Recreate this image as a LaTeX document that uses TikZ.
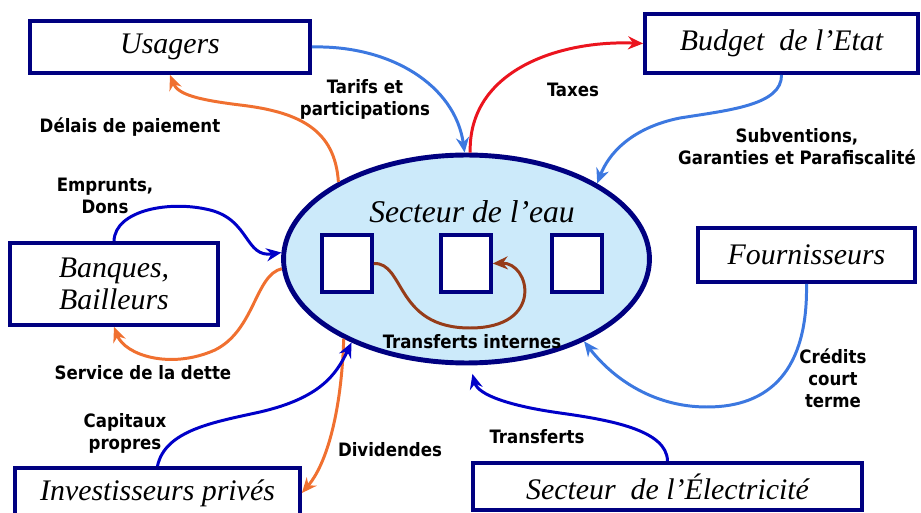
\documentclass[tikz,border=0pt]{standalone}
\usepackage{fontspec}
\setmainfont{Liberation Serif}
\newfontfamily\lblfont{DejaVu Sans Condensed}
\usetikzlibrary{positioning,
        shapes,
        arrows.meta}
\usepackage{xcolor}
\definecolor{navy}{RGB}{0,0,128}
\definecolor{eaufill}{RGB}{204,234,250}
\definecolor{fluxorange}{RGB}{240,112,48}
\definecolor{fluxbleu}{RGB}{60,120,224}
\definecolor{fluxmarine}{RGB}{0,0,200}
\definecolor{fluxrouge}{RGB}{235,20,30}
\definecolor{fluxbrun}{RGB}{150,60,25}

\begin{document}
\begin{tikzpicture}[x=0.02cm,y=-0.02cm,
            boite/.style={draw=navy,line width=2.2pt,fill=white,font=\fontsize{17}{18}\selectfont\itshape,align=center,inner sep=0pt},
            carre/.style={draw=navy,line width=2pt,fill=white,minimum width=1cm,minimum height=1.14cm,inner sep=0pt},
            etiq/.style={font=\lblfont\bfseries\fontsize{10.5}{12.5}\selectfont,align=center},
            flux/.style={line width=1.7pt,-{Stealth[length=3mm,width=2.6mm]}}]
            \useasboundingbox (0,0) rectangle (921,513);

            \node [boite,minimum width=5.6cm,minimum height=1.04cm] (usagers) at (170,47) {Usagers};
            \node [boite,minimum width=5.46cm,minimum height=1.18cm] (budget) at (781.5,43.5) {Budget\ \ de l’Etat};
            \node [boite,minimum width=4.16cm,minimum height=1.64cm] (banques) at (114,284) {Banques,\\Bailleurs};
            \node [boite,minimum width=4.34cm,minimum height=1.08cm] (fournisseurs) at (806.5,255) {Fournisseurs};
            \node [boite,minimum width=7.78cm,minimum height=0.94cm] (electricite) at (667.5,486.5) {Secteur\ \ de l’Électricité};
            \node [boite,minimum width=5.7cm,minimum height=1.0cm] (investisseurs) at (157.5,493) {Investisseurs privés};

            \node [ellipse,draw=navy,line width=2.8pt,fill=eaufill,minimum width=7.32cm,minimum height=4.16cm,inner sep=0pt] (eau) at (466.5,259) {};
            \node [font=\fontsize{18}{20}\selectfont\itshape] (titreeau) at (472,212) {Secteur de l’eau};
            \node [carre] (sqa) at (347,263.5) {};
            \node [carre] (sqb) at (466,263.5) {};
            \node [carre] (sqc) at (577,263.5) {};
            \node [etiq] (internes) at (472,342) {Transferts internes};

            % etiquettes des flux
            \node [etiq] (ltarifs) at (365,99) {Tarifs et\\participations};
            \node [etiq] (ltaxes) at (573,90) {Taxes};
            \node [etiq] (lsubv) at (797,147) {Subventions,\\Garanties et Parafiscalité};
            \node [etiq] (lcredits) at (833,378) {Crédits\\court\\terme};
            \node [etiq] (ltransf) at (537,437) {Transferts};
            \node [etiq] (ldiv) at (390,450) {Dividendes};
            \node [etiq] (lcapit) at (125,433) {Capitaux\\propres};
            \node [etiq] (lservice) at (143,373) {Service de la dette};
            \node [etiq] (lemprunts) at (105,196) {Emprunts,\\Dons};
            \node [etiq] (ldelais) at (130,127) {Délais de paiement};

            \draw [flux,fluxbleu] (usagers.east) .. controls (390,45) and (455,85) .. (eau.91);
            \draw [flux,fluxrouge] (eau.88) .. controls (468,70) and (560,40) .. (budget.west);
            \draw [flux,fluxbleu] (budget.south) .. controls (782,105) and (730,110) .. (680,118) .. controls (630,128) and (608,155) .. (eau.30);
            \draw [flux,fluxbleu] (fournisseurs.south) .. controls (808,370) and (770,407) .. (707,407) .. controls (650,407) and (610,375) .. (eau.-35);
            \draw [flux,fluxmarine,shorten >=5pt] (electricite.north) .. controls (667,430) and (610,420) .. (560,413) .. controls (510,406) and (478,395) .. (eau.-88);
            \draw [flux,fluxorange] (eau.213) .. controls (342,400) and (330,460) .. (investisseurs.east);
            \draw [flux,fluxmarine] (investisseurs.north) .. controls (165,430) and (215,422) .. (260,412) .. controls (320,398) and (336,375) .. (eau.216);
            \draw [flux,fluxorange] (eau.183) .. controls (255,275) and (255,330) .. (215,350) .. controls (170,370) and (125,355) .. (banques.south);
            \draw [flux,fluxmarine] (banques.north) .. controls (115,210) and (170,200) .. (210,210) .. controls (250,220) and (245,258) .. (eau.178);
            \draw [flux,fluxorange] (eau.149) .. controls (335,130) and (300,112) .. (240,105) .. controls (200,100) and (178,95) .. (usagers.south);
            \draw [flux,fluxbrun] (sqa.east) .. controls (405,262) and (395,328) .. (470,328) .. controls (545,328) and (530,262) .. (sqb.east);
        \end{tikzpicture}
\end{document}
